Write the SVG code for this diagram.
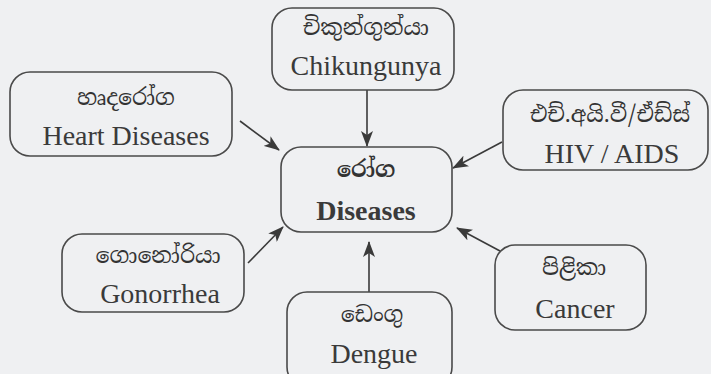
<svg xmlns="http://www.w3.org/2000/svg" width="711" height="374" viewBox="0 0 711 374">
  <defs>
    <marker id="arr" viewBox="0 0 16 12" refX="15" refY="6" markerWidth="16" markerHeight="12" markerUnits="userSpaceOnUse" orient="auto">
      <path d="M0,0 L16,6 L0,12 L4,6 Z" fill="#3a3a3a"/>
    </marker>
  </defs>
  <style>
    .box { fill: none; stroke: #4a4a4a; stroke-width: 1.6; }
    .si { font-family: "Noto Serif Sinhala", "Noto Sans Sinhala", "Iskoola Pota", serif; font-size: 22px; fill: #333; text-anchor: middle; }
    .en { font-family: "Liberation Serif", "Times New Roman", serif; font-size: 28px; fill: #3a3a3a; text-anchor: middle; }
    .b { font-weight: bold; }
    .conn line { stroke: #3a3a3a; stroke-width: 1.6; marker-end: url(#arr); }
  </style>
  <rect x="0" y="0" width="711" height="374" fill="#eff0f2"/>

  <g class="conn" id="connectors">
    <line x1="367" y1="90" x2="367" y2="146"/>
    <line x1="240" y1="121" x2="279" y2="150"/>
    <line x1="502" y1="142" x2="453" y2="168"/>
    <line x1="248" y1="263" x2="283" y2="227"/>
    <line x1="369" y1="292" x2="369" y2="242"/>
    <line x1="500" y1="251" x2="457" y2="228"/>
  </g>

  <g id="chikungunya">
    <rect class="box" x="272" y="8" width="182" height="82" rx="20"/>
    <text class="si" x="366" y="35">චිකුන්ගුන්යා</text>
    <text class="en" x="366" y="75">Chikungunya</text>
  </g>

  <g id="heart">
    <rect class="box" x="10" y="72" width="222" height="84" rx="20"/>
    <text class="si" x="126" y="105">හෘදරෝග</text>
    <text class="en" x="126" y="145">Heart Diseases</text>
  </g>

  <g id="hiv">
    <rect class="box" x="503" y="90" width="205" height="80" rx="20"/>
    <text class="si" x="610" y="122">එච්.අයි.වී/ඒඩ්ස්</text>
    <text class="en" x="612" y="163">HIV / AIDS</text>
  </g>

  <g id="diseases">
    <rect class="box" x="281" y="147" width="171" height="85" rx="20"/>
    <text class="si b" x="366" y="177">රෝග</text>
    <text class="en b" x="366" y="220" font-size="27">Diseases</text>
  </g>

  <g id="gonorrhea">
    <rect class="box" x="62" y="234" width="182" height="78" rx="20"/>
    <text class="si" x="158" y="263">ගොනෝරියා</text>
    <text class="en" x="160" y="303">Gonorrhea</text>
  </g>

  <g id="dengue">
    <rect class="box" x="287" y="292" width="165" height="95" rx="20"/>
    <text class="si" x="372" y="322">ඩෙංගු</text>
    <text class="en" x="374" y="363">Dengue</text>
  </g>

  <g id="cancer">
    <rect class="box" x="495" y="245" width="151" height="85" rx="20"/>
    <text class="si" x="574" y="275">පිළිකා</text>
    <text class="en" x="575" y="318">Cancer</text>
  </g>
</svg>
